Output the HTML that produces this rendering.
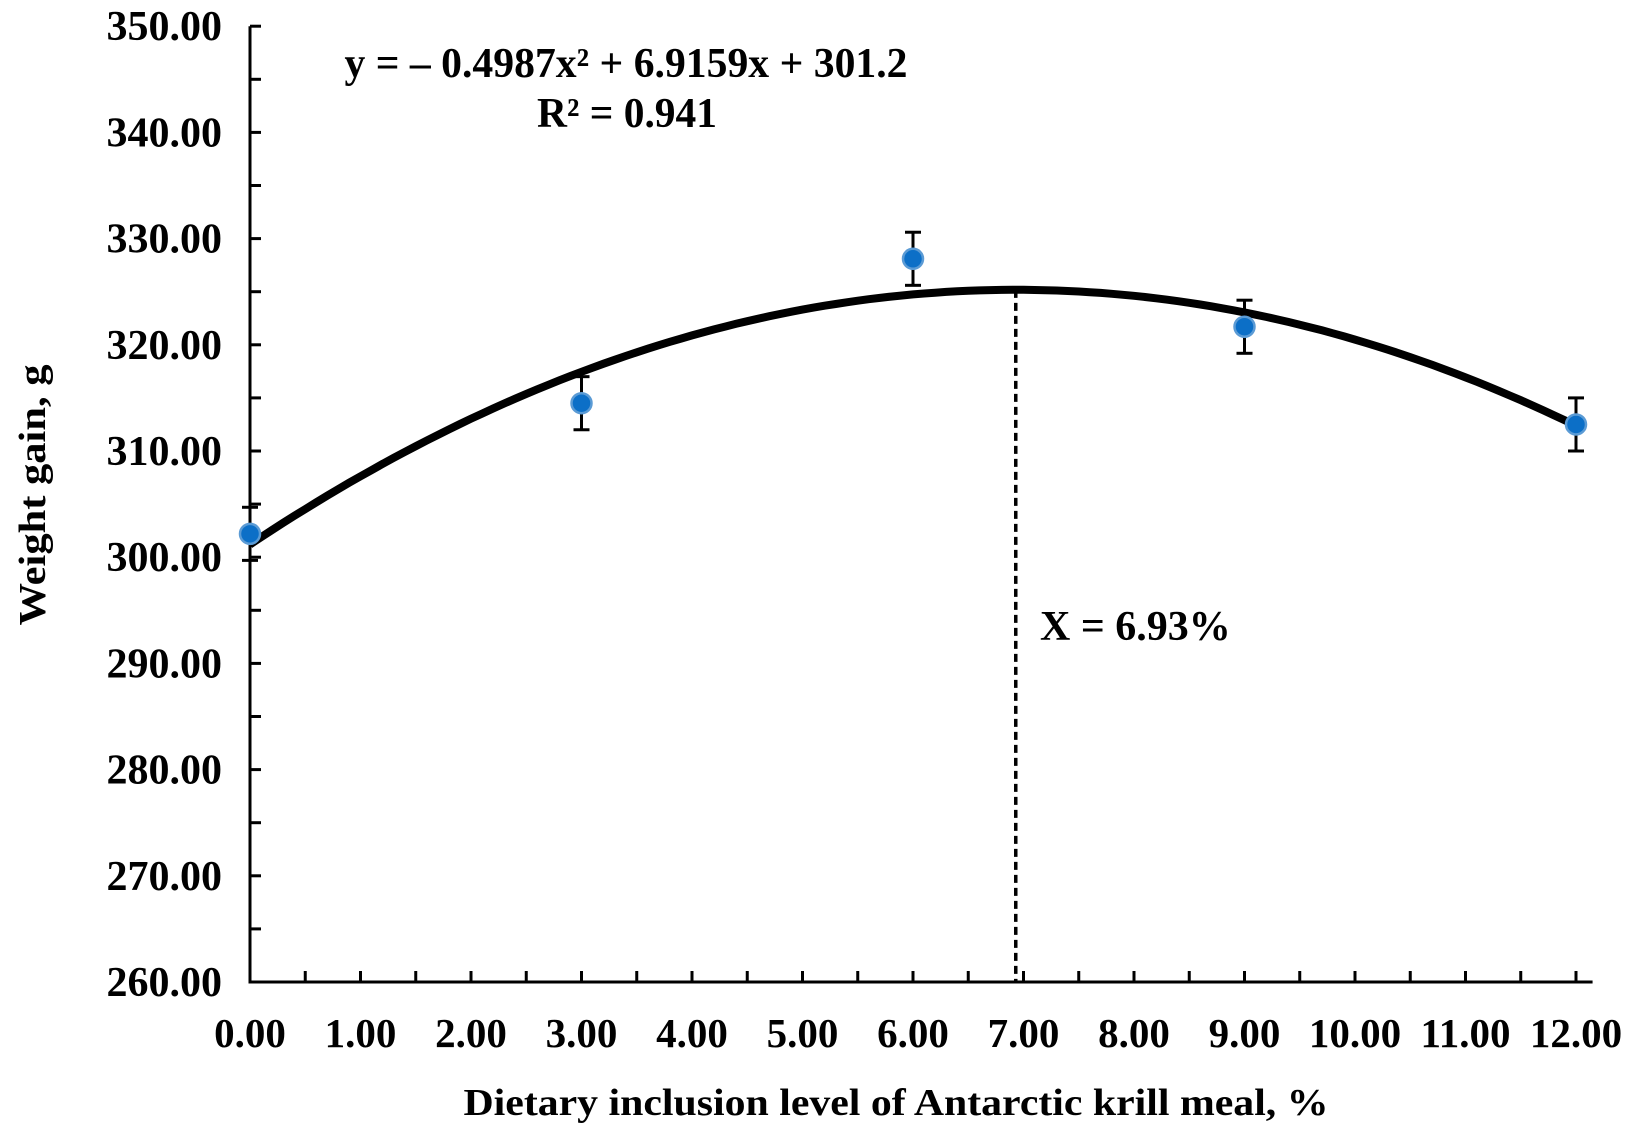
<!DOCTYPE html>
<html><head><meta charset="utf-8"><style>
html,body{margin:0;padding:0;background:#fff;}
svg{display:block;font-family:"Liberation Serif",serif;font-weight:bold;}
</style></head><body>
<svg id="chart" width="1632" height="1136" viewBox="0 0 1632 1136">
<g id="axes"></g>
<g id="marks"></g>
<text x="626" y="77" font-size="42" text-anchor="middle" textLength="563" lengthAdjust="spacingAndGlyphs">y = – 0.4987x² + 6.9159x + 301.2</text>
<text x="627" y="127" font-size="42" text-anchor="middle" textLength="180" lengthAdjust="spacingAndGlyphs">R² = 0.941</text>
<text x="1040" y="640" font-size="42">X = 6.93%</text>
<text transform="translate(45,495) rotate(-90)" font-size="38" text-anchor="middle" textLength="261" lengthAdjust="spacingAndGlyphs">Weight gain, g</text>
<text x="896" y="1115" font-size="38" text-anchor="middle" textLength="865" lengthAdjust="spacingAndGlyphs">Dietary inclusion level of Antarctic krill meal, %</text>
</svg>
<script>
const xValues = [0, 3, 6, 9, 12];
const yValues = [302.2, 314.5, 328.1, 321.7, 312.5];
const yErrors = [2.5, 2.5, 2.5, 2.5, 2.5];
const coefA = -0.4987, coefB = 6.9159, coefC = 301.2;
const optimumX = 6.93;
const xTickLabels = ["0.00","1.00","2.00","3.00","4.00","5.00","6.00","7.00","8.00","9.00","10.00","11.00","12.00"];
const yTickLabels = ["260.00","270.00","280.00","290.00","300.00","310.00","320.00","330.00","340.00","350.00"];

const NS = "http://www.w3.org/2000/svg";
const X0 = 250, XU = 110.5, Y0 = 982, YMIN = 260, YU = 10.62;
const sx = v => X0 + v * XU;
const sy = v => Y0 - (v - YMIN) * YU;
function mk(tag, attrs, parent) {
  const e = document.createElementNS(NS, tag);
  for (const k in attrs) e.setAttribute(k, attrs[k]);
  parent.appendChild(e);
  return e;
}
const axes = document.getElementById('axes');
const marks = document.getElementById('marks');

let el = mk('line', {x1: X0, y1: sy(350), x2: X0, y2: Y0 + 1.5, stroke: '#000', 'stroke-width': 3}, axes);


el = mk('line', {x1: X0 - 1.5, y1: Y0, x2: sx(12.15), y2: Y0, stroke: '#000', 'stroke-width': 3}, axes);



for (let v = 260; v <= 350; v += 5) {
  el = mk('line', {x1: X0, y1: sy(v), x2: X0 + 11, y2: sy(v), stroke: '#000', 'stroke-width': 3}, axes);
  
  
}
yTickLabels.forEach((t, i) => {
  el = mk('text', {x: 222, y: sy(parseFloat(t)) + 14, 'font-size': 42, 'text-anchor': 'end'}, axes);
  el.textContent = t;
  
  
});
for (let v = 0.5; v <= 12; v += 0.5) {
  el = mk('line', {x1: sx(v), y1: Y0, x2: sx(v), y2: Y0 - 11, stroke: '#000', 'stroke-width': 3}, axes);
  
  
}
xTickLabels.forEach((t, i) => {
  el = mk('text', {x: sx(parseFloat(t)), y: 1047, 'font-size': 41, 'text-anchor': 'middle'}, axes);
  el.textContent = t;
  
  
});

// fitted curve
let d = '';
for (let i = 0; i <= 120; i++) {
  const x = i * 0.1;
  d += (i ? 'L' : 'M') + sx(x).toFixed(1) + ',' + sy(coefA * x * x + coefB * x + coefC).toFixed(1);
}
el = mk('path', {d: d, fill: 'none', stroke: '#000', 'stroke-width': 8, 'stroke-linejoin': 'round'}, marks);



const peak = coefA * optimumX * optimumX + coefB * optimumX + coefC;
el = mk('line', {x1: sx(optimumX), y1: sy(peak), x2: sx(optimumX), y2: Y0, stroke: '#000', 'stroke-width': 3.5, 'stroke-dasharray': '8,5'}, marks);



xValues.forEach((x, i) => {
  const cx = sx(x), top = sy(yValues[i] + yErrors[i]), bot = sy(yValues[i] - yErrors[i]);
  const g = mk('g', {}, marks);
  
  
  mk('line', {x1: cx, y1: top, x2: cx, y2: bot, stroke: '#000', 'stroke-width': 3}, g);
  mk('line', {x1: cx - 8, y1: top, x2: cx + 8, y2: top, stroke: '#000', 'stroke-width': 3}, g);
  mk('line', {x1: cx - 8, y1: bot, x2: cx + 8, y2: bot, stroke: '#000', 'stroke-width': 3}, g);
  el = mk('circle', {cx: cx, cy: sy(yValues[i]), r: 10, fill: '#0c6fc7', stroke: '#5b9bd5', 'stroke-width': 2.5}, marks);
  
  
});
</script>
</body></html>
